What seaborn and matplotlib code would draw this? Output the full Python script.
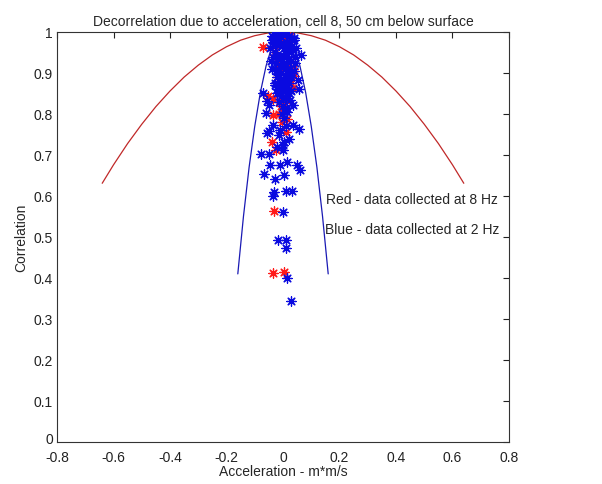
import matplotlib
matplotlib.use("Agg")
import matplotlib.pyplot as plt
import matplotlib.transforms as mtransforms
import seaborn as sns

# curves
red_curve_x = [-0.64, -0.6, -0.55, -0.5, -0.45, -0.4, -0.35, -0.3, -0.25, -0.2, -0.15, -0.1, -0.05,
               0.0, 0.05, 0.1, 0.15, 0.2, 0.25, 0.3, 0.35, 0.4, 0.45, 0.5, 0.55, 0.6, 0.64]
red_curve_y = [0.631, 0.676, 0.728, 0.775, 0.818, 0.856, 0.89, 0.919, 0.944, 0.964, 0.98, 0.991, 0.998,
               1.0, 0.998, 0.991, 0.98, 0.964, 0.944, 0.919, 0.89, 0.856, 0.818, 0.775, 0.728, 0.676, 0.631]

blue_curve_x = [-0.16, -0.14, -0.12, -0.10, -0.08, -0.06, -0.04, -0.02, 0.0,
                0.02, 0.04, 0.06, 0.08, 0.10, 0.12, 0.14, 0.16]
blue_curve_y = [0.41, 0.55, 0.67, 0.77, 0.853, 0.917, 0.963, 0.991, 1.0,
                0.991, 0.963, 0.917, 0.853, 0.77, 0.67, 0.55, 0.41]

# 8 Hz samples (red)
red_x = [-0.034, 0.004, -0.032, -0.025, -0.04, 0.011, -0.005, -0.034, -0.013, 0.015,
         -0.052, -0.037, -0.008, 0.034, 0.039, -0.07, 0.012, 0.025, -0.02, 0.0,
         0.018, -0.01, 0.03, 0.005, -0.028, 0.022, -0.015, 0.008, 0.028, -0.005,
         0.015, -0.022, 0.01, 0.035, -0.03, 0.02, 0.004, -0.012]
red_y = [0.413, 0.415, 0.563, 0.711, 0.732, 0.756, 0.78, 0.797, 0.80, 0.787,
         0.844, 0.837, 0.82, 0.863, 0.893, 0.963, 0.995, 0.99, 0.975, 0.985,
         0.955, 0.94, 0.93, 0.92, 0.945, 0.905, 0.915, 0.88, 0.875, 0.86,
         0.85, 0.89, 0.835, 0.91, 0.965, 0.97, 0.81, 0.83]

# 2 Hz samples (blue)
blue_x = [0.027, 0.013, 0.011, -0.016, 0.011, 0.0, -0.036, -0.032, 0.011, 0.031,
          -0.028, -0.067, 0.004, -0.046, -0.01, 0.015, 0.048, 0.06, -0.078, -0.048,
          0.0, 0.0, 0.004, -0.013, -0.058, -0.05, 0.037, 0.058, -0.034, -0.06,
          0.015, -0.07, -0.048, -0.058, 0.034, 0.025, 0.057, 0.052, 0.064,
          -0.04, -0.03, -0.02, -0.01, 0.0, 0.01, 0.02, 0.03, 0.04,
          -0.035, -0.025, -0.015, -0.005, 0.005, 0.015, 0.025, 0.035,
          -0.03, -0.02, -0.01, 0.0, 0.01, 0.02, 0.03,
          -0.025, -0.012, 0.0, 0.012, 0.025, -0.018, -0.006, 0.006, 0.018,
          -0.035, -0.02, -0.008, 0.004, 0.016, 0.03, 0.042,
          -0.03, -0.015, 0.0, 0.015, 0.03, -0.022, -0.008, 0.008, 0.022,
          -0.015, 0.0, 0.015, -0.005, 0.005, 0.01, -0.01, 0.02, -0.02,
          -0.045, -0.042, -0.04, 0.045, 0.042, 0.038, -0.038, 0.04,
          -0.028, -0.018, -0.008, 0.002, 0.012, 0.022, 0.032,
          -0.024, -0.014, -0.004, 0.006, 0.016, 0.026,
          -0.03, -0.02, -0.01, 0.0, 0.01, 0.02, 0.03, 0.012, -0.006]
blue_y = [0.343, 0.40, 0.472, 0.492, 0.492, 0.561, 0.60, 0.61, 0.612, 0.612,
          0.642, 0.653, 0.652, 0.675, 0.675, 0.683, 0.675, 0.663, 0.703, 0.703,
          0.711, 0.724, 0.732, 0.748, 0.754, 0.758, 0.774, 0.763, 0.774, 0.802,
          0.805, 0.851, 0.821, 0.831, 0.823, 0.833, 0.862, 0.882, 0.943,
          0.99, 0.995, 0.998, 1.0, 0.998, 0.995, 0.99, 0.985, 0.98,
          0.975, 0.97, 0.968, 0.965, 0.97, 0.972, 0.96, 0.955,
          0.95, 0.945, 0.94, 0.942, 0.948, 0.935, 0.93,
          0.925, 0.92, 0.915, 0.922, 0.91, 0.905, 0.9, 0.895, 0.9,
          0.94, 0.89, 0.885, 0.88, 0.89, 0.95, 0.94,
          0.87, 0.865, 0.86, 0.87, 0.855, 0.85, 0.845, 0.84, 0.85,
          0.83, 0.82, 0.815, 0.8, 0.79, 0.77, 0.76, 0.74, 0.72,
          0.96, 0.93, 0.91, 0.96, 0.925, 0.985, 0.98, 0.905,
          0.982, 0.978, 0.988, 0.96, 0.975, 0.955, 0.965,
          0.905, 0.895, 0.93, 0.91, 0.935, 0.895,
          0.875, 0.86, 0.878, 0.87, 0.858, 0.875, 0.89, 0.84, 0.85]

sns.set_style("white")
plt.rcParams["font.family"] = ["Liberation Sans", "DejaVu Sans"]

fig = plt.figure(figsize=(6.02, 4.85), dpi=100)
ax = fig.add_axes([0.0947, 0.0866, 0.7508, 0.8454])

sns.lineplot(x=red_curve_x, y=red_curve_y, color="#c02828", linewidth=0.9,
             estimator=None, sort=False, ax=ax)
sns.lineplot(x=blue_curve_x, y=blue_curve_y, color="#1a1ab4", linewidth=0.9,
             estimator=None, sort=False, ax=ax)

star = (8, 2, 0)
sns.scatterplot(x=red_x, y=red_y, color="#ff1a1a", marker=star, s=45,
                linewidth=0.9, ax=ax, zorder=3)
sns.scatterplot(x=blue_x, y=blue_y, color="#0a0ae0", marker=star, s=45,
                linewidth=0.9, ax=ax, zorder=4)

ax.text(0.153, 0.593, "Red - data collected at 8 Hz", fontsize=10, va="center")
ax.text(0.149, 0.52, "Blue - data collected at 2 Hz", fontsize=10, va="center")

ax.set_xlim(-0.8, 0.8)
ax.set_ylim(0, 1)
ax.set_xticks([-0.8, -0.6, -0.4, -0.2, 0, 0.2, 0.4, 0.6, 0.8])
ax.set_xticklabels(["-0.8", "-0.6", "-0.4", "-0.2", "0", "0.2", "0.4", "0.6", "0.8"])
ax.set_yticks([0, 0.1, 0.2, 0.3, 0.4, 0.5, 0.6, 0.7, 0.8, 0.9, 1])
ax.set_yticklabels(["0", "0.1", "0.2", "0.3", "0.4", "0.5", "0.6", "0.7", "0.8", "0.9", "1"])
ax.tick_params(direction="in", length=4, width=0.8, top=True, right=True,
               labelsize=10, colors="#222222")
ax.tick_params(axis="x", pad=6)
ax.tick_params(axis="y", pad=3)
# lift the bottom "0" a little so it sits clear of "-0.8", like the original
lbl0 = ax.get_yticklabels()[0]
lbl0.set_transform(lbl0.get_transform() + mtransforms.ScaledTranslation(0, 3 / 72, fig.dpi_scale_trans))
for sp in ax.spines.values():
    sp.set_color("#333333")
    sp.set_linewidth(0.8)

ax.set_title("Decorrelation due to acceleration, cell 8, 50 cm below surface",
             fontsize=10, pad=5)
ax.set_xlabel("Acceleration - m*m/s", fontsize=10, labelpad=0)
ax.set_ylabel("Correlation", fontsize=10, labelpad=4)

fig.savefig("out.png", dpi=100, facecolor="white")
